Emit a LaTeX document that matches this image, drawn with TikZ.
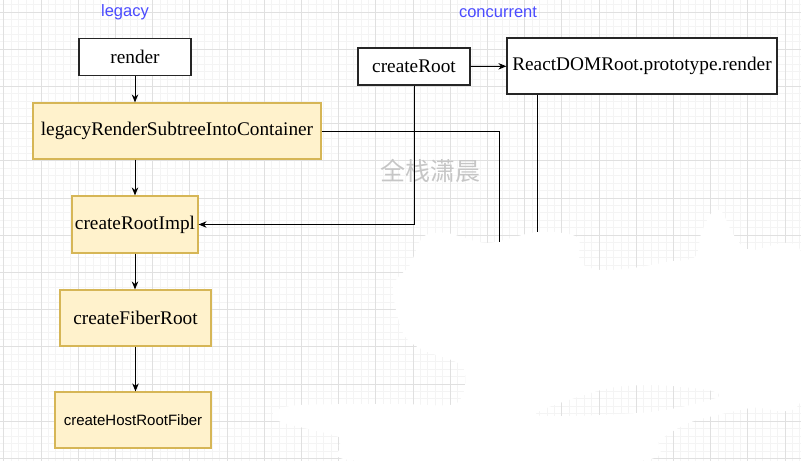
\documentclass[tikz,border=0pt]{standalone}
\usepackage{fontspec}
\setmainfont{Liberation Serif}
\newfontfamily\labelfont{Liberation Sans}
\newfontfamily\cjkfont{Noto Sans CJK SC}
\usepackage{tikz}
\usetikzlibrary{arrows.meta}

\definecolor{yellowfill}{HTML}{FFF2CC}
\definecolor{yellowline}{HTML}{D6B656}
\definecolor{modeblue}{HTML}{4B4BFF}
\definecolor{minorgrid}{HTML}{F4F4F4}
\definecolor{majorgrid}{HTML}{E0E0E0}

\tikzset{
  whitebox/.style={draw=black!85, line width=1.2pt, fill=white, inner sep=0pt,
    font=\fontsize{19.3}{22}\selectfont},
  yellowbox/.style={draw=yellowline, line width=1.2pt, fill=yellowfill, inner sep=0pt,
    font=\fontsize{19.3}{22}\selectfont},
  modelabel/.style={text=modeblue, font=\labelfont\fontsize{16.5}{19}\selectfont},
}

\begin{document}
\begin{tikzpicture}[x=1pt, y=-1pt, >={Stealth[length=8pt,width=6.5pt]}]
  \useasboundingbox (0,0) rectangle (801,461);
  \fill[white] (0,0) rectangle (801,461);
  % grid
  \foreach \i in {0,...,107}
    \draw[minorgrid, line width=0.8pt] (3.8+7.44*\i,0) -- (3.8+7.44*\i,461);
  \foreach \i in {0,...,61}
    \draw[minorgrid, line width=0.8pt] (0,4.56+7.44*\i) -- (801,4.56+7.44*\i);
  \foreach \i in {0,...,21}
    \draw[majorgrid, line width=0.8pt] (3.8+37.2*\i,0) -- (3.8+37.2*\i,461);
  \foreach \i in {0,...,12}
    \draw[majorgrid, line width=0.8pt] (0,12+37.2*\i) -- (801,12+37.2*\i);
  % erased area
  \fill[white, even odd rule]
    plot[smooth cycle, tension=0.5] coordinates {(423,237) (447,233) (487,243) (537,232)
      (577,237) (580,262) (600,270) (633,268) (667,262) (695,257) (701,234) (712,212)
      (722,212) (733,234) (750,250) (801,252) (801,400) (750,408) (691,422) (660,440)
      (636,461) (363,461) (339,448) (339,437) (281,422) (274,412) (300,405) (400,404)
      (457,403) (463,367) (423,350) (403,333) (393,287) (410,265)}
    plot[smooth cycle, tension=0.5] coordinates {(536,415) (601,390) (650,385) (708,390)
      (716,398) (650,412)};

  \node[modelabel] (legacyLabel) at (125,12) {legacy};
  \node[modelabel] (concurrentLabel) at (498,12) {concurrent};
  \node[text=gray!45, font=\cjkfont\fontsize{25}{25}\selectfont] (mark) at (430,171) {全栈潇晨};

  \node[whitebox, minimum width=112pt, minimum height=37pt] (render) at (135,57) {render};
  \node[yellowbox, minimum width=288pt, minimum height=56pt] (legacyRender) at (177,131) {legacyRenderSubtreeIntoContainer};
  \node[yellowbox, minimum width=126pt, minimum height=57pt] (rootImpl) at (135,224.5) {createRootImpl};
  \node[yellowbox, minimum width=151pt, minimum height=56pt] (fiberRoot) at (135.5,318) {createFiberRoot};
  \node[yellowbox, minimum width=156pt, minimum height=56pt,
    font=\labelfont\fontsize{15}{17}\selectfont] (hostFiber) at (133,420) {createHostRootFiber};
  \node[whitebox, minimum width=112pt, minimum height=37pt] (createRoot) at (414,66.5) {createRoot};
  \node[whitebox, minimum width=270pt, minimum height=56pt] (domRender) at (642,66) {ReactDOMRoot.prototype.render};

  \coordinate (legacyEnd) at (499,242);
  \coordinate (domEnd) at (537,232);

  \path[->, line width=1pt]
  (render) edge (render |- legacyRender.north)
  (legacyRender.south -| render) edge (rootImpl)
  (rootImpl) edge (rootImpl |- fiberRoot.north)
  (fiberRoot) edge (fiberRoot.south |- hostFiber.north)
  (createRoot) edge (domRender);
  \draw[->, line width=1pt] (createRoot.south) |- (rootImpl.east);
  \draw[line width=1pt] (legacyRender.east) -| (legacyEnd);
  \draw[line width=1pt] (domEnd |- domRender.south) -- (domEnd);
\end{tikzpicture}
\end{document}
